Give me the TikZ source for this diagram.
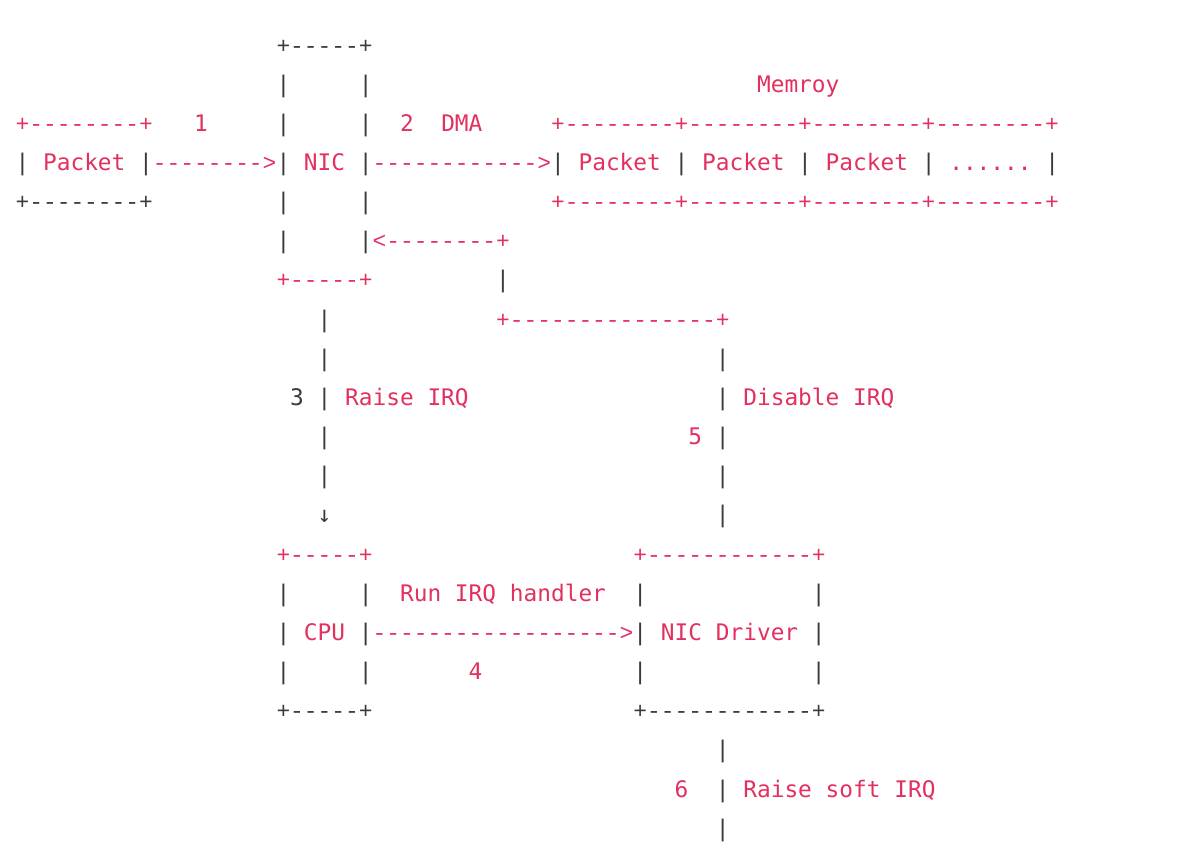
\documentclass[tikz,border=0pt]{standalone}
\usepackage{fontspec}
\setmonofont{DejaVu Sans Mono}
\newfontfamily\linefont{Liberation Mono}[Ligatures=ResetAll]
\definecolor{pinkc}{HTML}{E2305F}
\definecolor{grayc}{HTML}{3A3A3A}
\tikzset{
  txt/.style={anchor=base west, inner sep=0pt, outer sep=0pt,
    font=\ttfamily\fontsize{11.4pt}{13pt}\selectfont},
  pk/.style={txt, text=pinkc},
  gy/.style={txt, text=grayc},
  ln/.style={font=\linefont\fontsize{11.436pt}{13pt}\selectfont},
  pl/.style={pk, ln},
  gl/.style={gy, ln}
}
% row, column, style, text
\newcommand\gl[4]{\node[#3] (r#1c#2) at ({15.63+13.73*#2},{53+39.16*#1}) {#4};}
\begin{document}
\begin{tikzpicture}[x=0.5pt,y=-0.5pt]
\useasboundingbox (0,0) rectangle (1200,858);
% row 0
\gl{0}{19}{gl}{+-----+}
% row 1
\gl{1}{19}{gy}{|}\gl{1}{25}{gy}{|}\gl{1}{54}{pk}{Memroy}
% row 2
\gl{2}{0}{pl}{+--------+}\gl{2}{13}{pk}{1}\gl{2}{19}{gy}{|}\gl{2}{25}{gy}{|}
\gl{2}{28}{pk}{2}\gl{2}{31}{pk}{DMA}
\gl{2}{39}{pl}{+--------+--------+--------+--------+}
% row 3
\gl{3}{0}{gy}{|}\gl{3}{2}{pk}{Packet}\gl{3}{9}{gy}{|}\gl{3}{10}{pl}{-------->}
\gl{3}{19}{gy}{|}\gl{3}{21}{pk}{NIC}\gl{3}{25}{gy}{|}\gl{3}{26}{pl}{------------>}
\gl{3}{39}{gy}{|}\gl{3}{41}{pk}{Packet}\gl{3}{48}{gy}{|}\gl{3}{50}{pk}{Packet}
\gl{3}{57}{gy}{|}\gl{3}{59}{pk}{Packet}\gl{3}{66}{gy}{|}\gl{3}{68}{pk}{......}
\gl{3}{75}{gy}{|}
% row 4
\gl{4}{0}{gl}{+--------+}\gl{4}{19}{gy}{|}\gl{4}{25}{gy}{|}
\gl{4}{39}{pl}{+--------+--------+--------+--------+}
% row 5
\gl{5}{19}{gy}{|}\gl{5}{25}{gy}{|}\gl{5}{26}{pl}{<--------+}
% row 6
\gl{6}{19}{pl}{+-----+}\gl{6}{35}{gy}{|}
% row 7
\gl{7}{22}{gy}{|}\gl{7}{35}{pl}{+---------------+}
% row 8
\gl{8}{22}{gy}{|}\gl{8}{51}{gy}{|}
% row 9
\gl{9}{20}{gy}{3}\gl{9}{22}{gy}{|}\gl{9}{24}{pk}{Raise IRQ}
\gl{9}{51}{gy}{|}\gl{9}{53}{pk}{Disable IRQ}
% row 10
\gl{10}{22}{gy}{|}\gl{10}{49}{pk}{5}\gl{10}{51}{gy}{|}
% row 11
\gl{11}{22}{gy}{|}\gl{11}{51}{gy}{|}
% row 12
\gl{12}{22}{gy}{↓}\gl{12}{51}{gy}{|}
% row 13
\gl{13}{19}{pl}{+-----+}\gl{13}{45}{pl}{+------------+}
% row 14
\gl{14}{19}{gy}{|}\gl{14}{25}{gy}{|}\gl{14}{28}{pk}{Run IRQ handler}
\gl{14}{45}{gy}{|}\gl{14}{58}{gy}{|}
% row 15
\gl{15}{19}{gy}{|}\gl{15}{21}{pk}{CPU}\gl{15}{25}{gy}{|}
\gl{15}{26}{pl}{------------------>}\gl{15}{45}{gy}{|}
\gl{15}{47}{pk}{NIC Driver}\gl{15}{58}{gy}{|}
% row 16
\gl{16}{19}{gy}{|}\gl{16}{25}{gy}{|}\gl{16}{33}{pk}{4}
\gl{16}{45}{gy}{|}\gl{16}{58}{gy}{|}
% row 17
\gl{17}{19}{gl}{+-----+}\gl{17}{45}{gl}{+------------+}
% row 18
\gl{18}{51}{gy}{|}
% row 19
\gl{19}{48}{pk}{6}\gl{19}{51}{gy}{|}\gl{19}{53}{pk}{Raise soft IRQ}
% row 20
\gl{20}{51}{gy}{|}
\end{tikzpicture}
\end{document}
